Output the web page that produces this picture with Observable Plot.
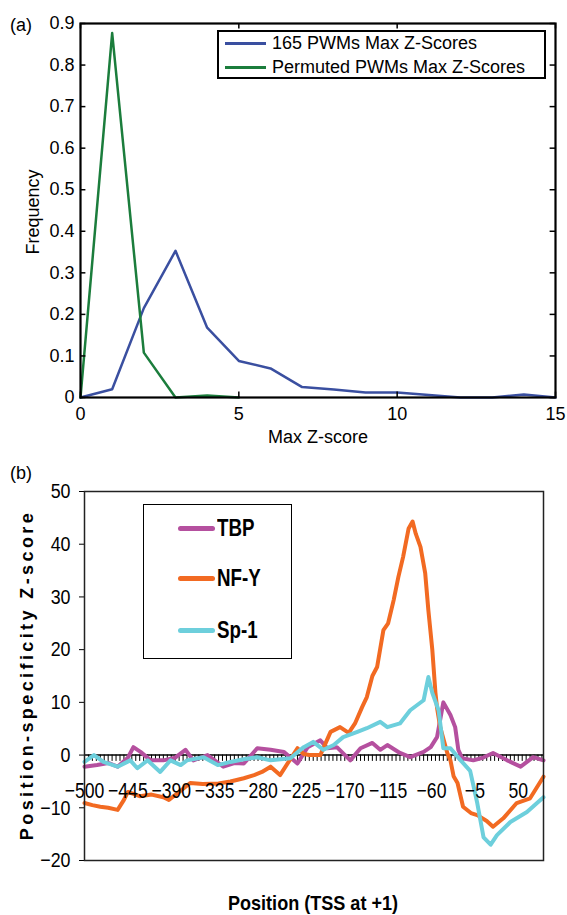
<!DOCTYPE html>
<html><head><meta charset="utf-8">
<script src="https://cdn.jsdelivr.net/npm/d3@7"></script>
<script src="https://cdn.jsdelivr.net/npm/@observablehq/plot@0.6"></script>
<style>
body{margin:0;background:#fff;}
#wrap{position:relative;width:567px;height:915px;overflow:hidden;font-family:"Liberation Sans",Arial,sans-serif;color:#000;}
.abs{position:absolute;white-space:nowrap;line-height:1;}
.c{transform:translate(-50%,-50%);}
.cn{transform:translate(-50%,-50%) scaleX(0.86);}
.r{transform:translate(-50%,-50%) rotate(-90deg);}
.ln{transform-origin:left center;transform:scaleX(0.78);}
.svgpos{position:absolute;left:0;}
</style></head><body><div id="wrap"></div>
<script>
// ---------- Panel (a) data ----------
const zScores = [0,1,2,3,4,5,6,7,8,9,10,11,12,13,14,15];
const pwm165Freq = [0,0.02,0.215,0.353,0.168,0.088,0.07,0.025,0.019,0.012,0.012,0.006,0,0,0.007,0];
const permZ = [0,1,2,3,4,5];
const permFreq = [0,0.877,0.108,0,0.005,0];
const aTicksX = [0,5,10,15];
const aTicksY = [0,0.1,0.2,0.3,0.4,0.5,0.6,0.7,0.8,0.9];
const aSeries = ["165 PWMs Max Z-Scores","Permuted PWMs Max Z-Scores"];
const aColors = ["#3a4fa0","#1b7d3c"];

// ---------- Panel (b) data ----------
const tbpPos = [-500,-484,-470,-458,-445,-438,-429,-416,-400,-385,-372,-362,-344,-324,-310,-298,-281,-264,-247,-230,-217,-201,-192,-180,-163,-150,-135,-125,-116,-100,-87,-70,-61,-53,-45,-36,-30,-26,-21,-7,5,18,36,53,69,82];
const tbpZ   = [-2.2,-1.9,-1.5,-2.2,-0.5,1.5,0.6,-1,-1,-0.5,1,-1,0,-2.2,-1.5,-1.6,1.3,1,0.6,-1.6,1.5,2.8,1.3,1.5,-1,1.3,2.3,1,1.9,0.4,-0.4,0.6,1.5,3.4,10,7.6,5.3,1,-0.6,-1,-0.5,0.4,-1,-2.2,-0.4,-1];
const nfyPos = [-500,-490,-480,-470,-458,-450,-445,-430,-415,-400,-393,-380,-366,-350,-330,-315,-298,-285,-275,-264,-252,-240,-230,-222,-215,-201,-188,-176,-165,-157,-148,-142,-135,-129,-121,-115,-108,-102,-96,-89,-84,-80,-74,-68,-64,-59,-55,-53,-49,-40,-36,-32,-27,-20,-10,-2,10,18,31,48,65,82];
const nfyZ   = [-9.1,-9.5,-9.8,-10,-10.4,-8.5,-7,-7.8,-7.5,-8,-8.5,-7,-5.3,-5.5,-5.4,-5,-4.4,-3.8,-3.2,-2.2,-3.8,-1,1.3,0.2,0,0,4.4,5.3,4.2,6,9.1,11,15,16.7,23.7,25,29.4,33.8,37.6,43,44.3,42,39.5,34.5,27.5,20,11.8,9,5.3,0.4,-1,-4,-5.3,-9.8,-11,-11.4,-12.5,-13.6,-12,-9.1,-8.2,-4.1];
const sp1Pos = [-500,-488,-476,-458,-442,-433,-420,-404,-391,-378,-370,-349,-331,-315,-298,-281,-264,-239,-222,-210,-197,-184,-172,-154,-142,-125,-116,-100,-87,-70,-64,-59,-51,-45,-36,-23,-11,-2,6,15,23,40,61,82];
const sp1Z   = [-1.3,0,-1.3,-2.2,-1,-2.5,-1,-3.2,-1,-1.9,-1,-0.4,-1.9,-1.3,-0.8,-0.4,-1,-0.6,1.5,2.5,1,1.9,3.4,4.4,5.1,6.3,5.3,6,8.5,10.4,14.8,11.8,8.5,1.3,1.3,-1,-3,-9.1,-15.6,-17,-15.2,-12.7,-10.8,-8];
const bSeries = ["TBP","NF-Y","Sp-1"];
const bColors = ["#b5509f","#f26a22","#6dcfdc"];
const bTicksY = [-20,-10,0,10,20,30,40,50];
const bTickLabels = [-500,-445,-390,-335,-280,-225,-170,-115,-60,-5,50];
const bMinorTicks = d3.range(-500, 83, 5);

const wrap = document.getElementById("wrap");

// ---------- Panel (a) ----------
const aBlue = zScores.map((z,i)=>({z, f: pwm165Freq[i]}));
const aGreen = permZ.map((z,i)=>({z, f: permFreq[i]}));
const A = Plot.plot({
  width: 567, height: 440,
  marginLeft: 80, marginRight: 12, marginTop: 23, marginBottom: 43,
  style: {fontFamily: "Liberation Sans, Arial, sans-serif", fontSize: "18px", color: "#000", background: "transparent", overflow: "visible"},
  x: {domain: [0,15], ticks: aTicksX, tickSize: 0, tickPadding: 10, label: null},
  y: {domain: [0,0.9], ticks: aTicksY, tickSize: 0, tickPadding: 6, label: null, tickFormat: d => d === 0 ? "0" : d3.format(".1f")(d)},
  marks: [
    Plot.line(aBlue, {x: "z", y: "f", stroke: aColors[0], strokeWidth: 2.5}),
    Plot.line(aGreen, {x: "z", y: "f", stroke: aColors[1], strokeWidth: 2.5}),
    Plot.ruleX(aTicksX, {y1: 0, y2: 0.013, stroke: "#000", strokeWidth: 1.5}),
    Plot.ruleX(aTicksX, {y1: 0.9, y2: 0.887, stroke: "#000", strokeWidth: 1.5}),
    Plot.ruleY(aTicksY, {x1: 0, x2: 0.17, stroke: "#000", strokeWidth: 1.5}),
    Plot.ruleY(aTicksY, {x1: 15, x2: 14.83, stroke: "#000", strokeWidth: 1.5}),
    Plot.frame({stroke: "#000", strokeWidth: 2.2})
  ]
});
A.classList.add("svgpos"); A.style.top = "0px";
wrap.appendChild(A);

// ---------- Panel (b) ----------
const bData = [
  ...tbpPos.map((p,i)=>({p, z: tbpZ[i], s: bSeries[0]})),
  ...nfyPos.map((p,i)=>({p, z: nfyZ[i], s: bSeries[1]})),
  ...sp1Pos.map((p,i)=>({p, z: sp1Z[i], s: bSeries[2]}))
];
const B = Plot.plot({
  width: 567, height: 475,
  marginLeft: 84, marginRight: 24, marginTop: 51, marginBottom: 55,
  style: {fontFamily: "Liberation Sans, Arial, sans-serif", fontSize: "21px", color: "#000", background: "transparent", overflow: "visible"},
  x: {domain: [-500, 82], axis: null},
  y: {domain: [-20, 50], ticks: bTicksY, tickSize: 5, tickPadding: 9, label: null},
  color: {domain: bSeries, range: bColors},
  marks: [
    Plot.ruleY([0], {stroke: "#000", strokeWidth: 1.5}),
    Plot.ruleX(bMinorTicks, {y1: 0, y2: -1.2, stroke: "#000", strokeWidth: 1}),
    Plot.line(bData, {x: "p", y: "z", z: "s", stroke: "s", strokeWidth: 4, strokeLinejoin: "round"}),
    Plot.text(bTickLabels, {x: d => d, y: 0, dy: 36, text: d => d < 0 ? "\u2212" + Math.abs(d) : String(d), fontSize: 22, className: "xlab"}),
    Plot.frame({stroke: "#222", strokeWidth: 1.5})
  ]
});
B.classList.add("svgpos"); B.style.top = "440px";
wrap.appendChild(B);

// condensed look for panel (b) tick labels (scale around each text's anchor)
function condense(t, s) {
  const xa = t.getAttribute("x");
  const x = xa && !isNaN(+xa) ? +xa : 0;
  if (xa && !isNaN(+xa)) t.removeAttribute("x");
  const tr = t.getAttribute("transform") || "";
  t.setAttribute("transform", `${tr} translate(${x},0) scale(${s},1)`);
}
B.querySelectorAll('g[aria-label="y-axis tick label"] text').forEach(t => condense(t, 0.85));
B.querySelectorAll('.xlab text').forEach(t => condense(t, 0.8));

// ---------- Text overlays ----------
function addText(txt, cls, left, top, style) {
  const d = document.createElement("div");
  d.className = "abs " + cls;
  d.style.left = left + "px"; d.style.top = top + "px";
  Object.assign(d.style, style || {});
  d.textContent = txt;
  wrap.appendChild(d);
  return d;
}
addText("(a)", "", 10, 16, {fontSize: "18px"});
addText("Frequency", "r", 33, 212, {fontSize: "18px"});
addText("Max Z-score", "c", 318, 437, {fontSize: "18px"});
addText("(b)", "", 10, 464, {fontSize: "18px"});
addText("Position-specificity Z-score", "r", 27, 675, {fontSize: "18px", fontWeight: "bold", letterSpacing: "3.4px"});
addText("Position (TSS at +1)", "cn", 313, 902, {fontSize: "21px", fontWeight: "bold"});

// Legend (a)
const la = document.createElement("div");
la.className = "abs";
Object.assign(la.style, {left: "217px", top: "30px", width: "329px", height: "49px", border: "2px solid #000", boxSizing: "border-box", background: "#fff"});
wrap.appendChild(la);
aSeries.forEach((name, i) => {
  const y = 43 + i * 24;
  const sw = document.createElement("div");
  sw.className = "abs";
  Object.assign(sw.style, {left: "225px", top: (y - 1) + "px", width: "41px", height: "2.5px", background: aColors[i]});
  wrap.appendChild(sw);
  addText(name, "", 272, y - 9, {fontSize: "18px"});
});

// Legend (b)
const lb = document.createElement("div");
lb.className = "abs";
Object.assign(lb.style, {left: "143px", top: "504px", width: "149px", height: "155px", border: "1px solid #000", boxSizing: "border-box", background: "#fff"});
wrap.appendChild(lb);
const lbY = [528, 578, 630];
bSeries.forEach((name, i) => {
  const sw = document.createElement("div");
  sw.className = "abs";
  Object.assign(sw.style, {left: "178px", top: (lbY[i] - 2.5) + "px", width: "37px", height: "5px", borderRadius: "2.5px", background: bColors[i]});
  wrap.appendChild(sw);
  addText(name, "ln", 217, lbY[i] - 12, {fontSize: "24px", fontWeight: "bold"});
});
</script>
</body></html>
